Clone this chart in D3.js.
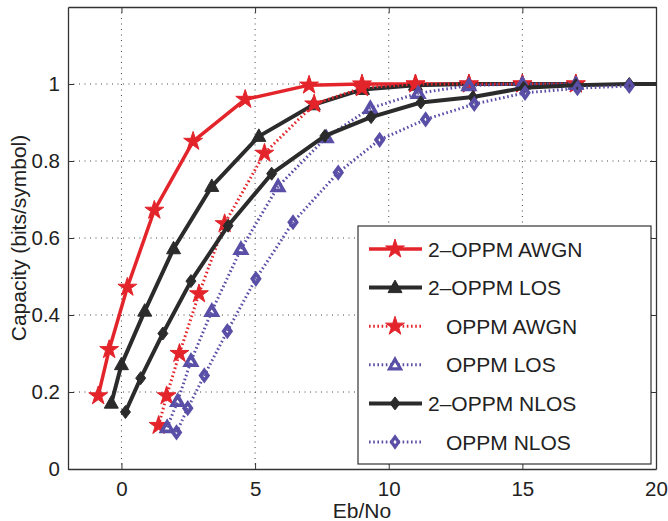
<!DOCTYPE html>
<html>
<head>
<meta charset="utf-8">
<script src="https://cdn.jsdelivr.net/npm/d3@7"></script>
<style>
  body { margin: 0; background: #fff; }
  text { font-family: "Liberation Sans", Arial, sans-serif; fill: #222; }
</style>
</head>
<body>
<svg id="chart" width="668" height="521"></svg>
<script>
// values
var xAwgn2 = [-0.87, -0.46, 0.22, 1.23, 2.68, 4.63, 7.02, 9.0, 11.0, 13.0, 15.0, 17.0];
var yAwgn2 = [0.19, 0.31, 0.472, 0.672, 0.851, 0.96, 0.997, 1, 1, 1, 1, 1];
var xLos2 = [-0.38, 0.0, 0.87, 1.95, 3.38, 5.14, 7.18, 9.02, 11.0, 13.0, 15.0, 17.0];
var yLos2 = [0.171, 0.271, 0.41, 0.572, 0.734, 0.864, 0.946, 0.986, 0.997, 1, 1, 1];
var xAwgn1 = [1.39, 1.69, 2.17, 2.9, 3.86, 5.35, 7.21, 9.0, 11.0, 13.0, 15.0, 17.0];
var yAwgn1 = [0.113, 0.19, 0.30, 0.455, 0.637, 0.82, 0.948, 0.99, 1, 1, 1, 1];
var xLos1 = [1.71, 2.1, 2.6, 3.38, 4.47, 5.86, 7.66, 9.31, 11.1, 13.0, 15.0, 17.0];
var yLos1 = [0.108, 0.176, 0.28, 0.41, 0.571, 0.734, 0.861, 0.937, 0.976, 0.996, 1, 1];
var xNlos2 = [0.15, 0.72, 1.55, 2.6, 3.99, 5.62, 7.61, 9.34, 11.2, 13.15, 15.05, 17.0, 19.0, 21.0];
var yNlos2 = [0.148, 0.236, 0.352, 0.488, 0.632, 0.767, 0.865, 0.914, 0.952, 0.966, 0.99, 0.997, 1.0, 1.0];
var xNlos1 = [2.06, 2.48, 3.1, 3.96, 5.03, 6.42, 8.11, 9.66, 11.38, 13.2, 15.1, 17.06, 19.0];
var yNlos1 = [0.095, 0.158, 0.243, 0.358, 0.494, 0.641, 0.77, 0.855, 0.908, 0.948, 0.977, 0.989, 0.995];

var xTicks = [0, 5, 10, 15, 20];
var yTicks = [0, 0.2, 0.4, 0.6, 0.8, 1];
var names = ['2\u2013OPPM AWGN', '2\u2013OPPM LOS', 'OPPM AWGN', 'OPPM LOS', '2\u2013OPPM NLOS', 'OPPM NLOS'];

var red = '#e3242b', black = '#2b2b2b', blue = '#5a4fa6';

var series = [
  {x: xAwgn2, y: yAwgn2, color: red, dash: null, width: 3.5, marker: 'star', fill: true},
  {x: xLos2, y: yLos2, color: black, dash: null, width: 4, marker: 'tri', fill: true},
  {x: xAwgn1, y: yAwgn1, color: red, dash: '1.6,2.6', width: 3, marker: 'star', fill: true},
  {x: xLos1, y: yLos1, color: blue, dash: '1.6,2.6', width: 3, marker: 'tri', fill: false},
  {x: xNlos2, y: yNlos2, color: black, dash: null, width: 4, marker: 'dia', fill: true},
  {x: xNlos1, y: yNlos1, color: blue, dash: '1.6,2.6', width: 3, marker: 'dia', fill: false}
];

var pLeft = 68, pRight = 656, pTop = 7, pBottom = 469;
var svg = d3.select('#chart');
var x = d3.scaleLinear().domain([-2, 20]).range([pLeft, pRight]);
var y = d3.scaleLinear().domain([0, 1.2]).range([pBottom, pTop]);

svg.append('clipPath').attr('id', 'clip')
  .append('rect').attr('x', pLeft).attr('y', pTop).attr('width', pRight - pLeft).attr('height', pBottom - pTop);

// grid
svg.append('g').selectAll('line').data(xTicks.slice(0, -1)).enter().append('line')
  .attr('x1', function (d) {return x(d)}).attr('x2', function (d) {return x(d)})
  .attr('y1', pTop).attr('y2', pBottom)
  .attr('stroke', '#444').attr('stroke-width', 1).attr('stroke-dasharray', '1,4.5');
svg.append('g').selectAll('line').data(yTicks.slice(1)).enter().append('line')
  .attr('y1', function (d) {return y(d)}).attr('y2', function (d) {return y(d)})
  .attr('x1', pLeft).attr('x2', pRight)
  .attr('stroke', '#444').attr('stroke-width', 1).attr('stroke-dasharray', '1,4.5');

// axes, MATLAB style: ticks inside, box all round
var ax = svg.append('g');
ax.append('g').attr('transform', 'translate(0,' + pBottom + ')')
  .call(d3.axisBottom(x).tickValues(xTicks).tickSizeInner(-6).tickSizeOuter(0).tickPadding(12));
ax.append('g').attr('transform', 'translate(' + pLeft + ',0)')
  .call(d3.axisLeft(y).tickValues(yTicks).tickFormat(d3.format('')).tickSizeInner(-6).tickSizeOuter(0).tickPadding(8));
ax.append('g').attr('transform', 'translate(0,' + pTop + ')')
  .call(d3.axisTop(x).tickValues(xTicks).tickSizeInner(-6).tickSizeOuter(0).tickFormat(''));
ax.append('g').attr('transform', 'translate(' + pRight + ',0)')
  .call(d3.axisRight(y).tickValues(yTicks).tickSizeInner(-6).tickSizeOuter(0).tickFormat(''));
ax.selectAll('.domain').attr('stroke', '#333').attr('stroke-width', 1.3);
ax.selectAll('.tick line').attr('stroke', '#333');
ax.selectAll('.tick text').attr('font-size', 20.5).attr('font-family', '"Liberation Sans", Arial, sans-serif').attr('fill', '#222');

svg.append('text').attr('x', (pLeft + pRight) / 2).attr('y', 518)
  .attr('text-anchor', 'middle').attr('font-size', 21).text('Eb/No');
svg.append('text').attr('transform', 'translate(26,' + ((pTop + pBottom) / 2) + ') rotate(-90)')
  .attr('text-anchor', 'middle').attr('font-size', 21).text('Capacity (bits/symbol)');

var markerPath = function (type, hollow) {
  if (type === 'star') return d3.symbol().type(d3.symbolStar).size(110)();
  if (type === 'tri') return hollow ? 'M0,-5.5L5.5,4L-5.5,4Z' : 'M0,-7.5L7,5L-7,5Z';
  return hollow ? 'M0,-5L3.6,0L0,5L-3.6,0Z' : 'M0,-6.5L5,0L0,6.5L-5,0Z';
};

var line = d3.line().x(function (d) {return x(d[0])}).y(function (d) {return y(d[1])});
var plot = svg.append('g').attr('clip-path', 'url(#clip)');

series.forEach(function (s) {
  var pts = s.x.map(function (v, i) {return [v, s.y[i]]});
  plot.append('path').datum(pts).attr('d', line)
    .attr('fill', 'none').attr('stroke', s.color).attr('stroke-width', s.width)
    .attr('stroke-dasharray', s.dash).attr('stroke-linejoin', 'round');
  plot.selectAll(null).data(pts).enter().append('path')
    .attr('d', markerPath(s.marker, !s.fill))
    .attr('transform', function (d) {return 'translate(' + x(d[0]) + ',' + y(d[1]) + ')'})
    .attr('fill', s.fill ? s.color : 'none')
    .attr('stroke', s.color).attr('stroke-width', s.fill ? 1 : 3.6)
    .attr('stroke-linejoin', 'miter');
});

// legend
var lg = svg.append('g');
lg.append('rect').attr('x', 358).attr('y', 226).attr('width', 293).attr('height', 238)
  .attr('fill', '#fff').attr('stroke', '#333').attr('stroke-width', 1.2);
series.forEach(function (s, i) {
  var cy = 249 + i * 38.6;
  lg.append('line').attr('x1', 369).attr('x2', 422).attr('y1', cy).attr('y2', cy)
    .attr('stroke', s.color).attr('stroke-width', s.width).attr('stroke-dasharray', s.dash);
  lg.append('path').attr('d', markerPath(s.marker, !s.fill))
    .attr('transform', 'translate(395,' + cy + ')')
    .attr('fill', s.fill ? s.color : '#fff')
    .attr('stroke', s.color).attr('stroke-width', s.fill ? 1 : 3.2);
  lg.append('text').attr('x', names[i].charAt(0) === '2' ? 428 : 446).attr('y', cy + 7.5)
    .attr('font-size', 21).text(names[i]);
});
</script>
</body>
</html>
